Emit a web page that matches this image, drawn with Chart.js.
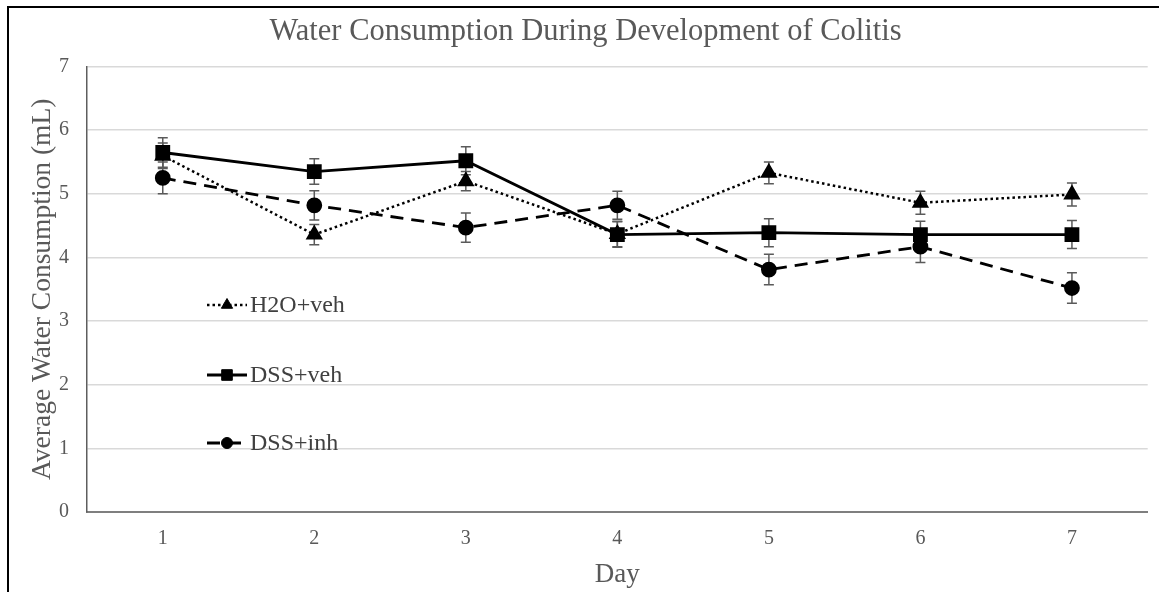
<!DOCTYPE html>
<html>
<head>
<meta charset="utf-8">
<title>Water Consumption During Development of Colitis</title>
<script src="https://cdn.jsdelivr.net/npm/chart.js@4/dist/chart.umd.min.js"></script>
<style>
    html, body { margin: 0; padding: 0; background: #fff; }
    #wrap { position: relative; width: 1159px; height: 592px; }
</style>
</head>
<body>
<div id="wrap"><canvas id="waterChart"></canvas></div>
<script>
// --- Data ---
const days = ['1', '2', '3', '4', '5', '6', '7'];
const yTicks = [0, 1, 2, 3, 4, 5, 6, 7];

const h2oVeh = [5.60, 4.36, 5.20, 4.37, 5.33, 4.86, 4.99];
const h2oVehErr = [0.20, 0.16, 0.15, 0.20, 0.17, 0.18, 0.18];

const dssVeh = [5.65, 5.35, 5.52, 4.36, 4.39, 4.36, 4.36];
const dssVehErr = [0.23, 0.20, 0.22, 0.20, 0.22, 0.21, 0.22];

const dssInh = [5.25, 4.82, 4.47, 4.82, 3.81, 4.17, 3.52];
const dssInhErr = [0.25, 0.23, 0.23, 0.22, 0.24, 0.25, 0.24];

const FONT = '"Liberation Serif", "Times New Roman", serif';
const GREY_TEXT = '#595959';

// --- Error bars, drawn through the scales ---
const errorBars = {
    id: 'errorBars',
    beforeDatasetsDraw(chart) {
        const ctx = chart.ctx;
        const yScale = chart.scales.y;
        ctx.save();
        ctx.strokeStyle = '#5a5a5a';
        ctx.lineWidth = 1.5;
        chart.data.datasets.forEach((ds, i) => {
            const meta = chart.getDatasetMeta(i);
            meta.data.forEach((pt, j) => {
                const v = ds.data[j];
                const e = ds.errors[j];
                const yTop = yScale.getPixelForValue(v + e);
                const yBot = yScale.getPixelForValue(v - e);
                ctx.beginPath();
                ctx.moveTo(pt.x, yTop);
                ctx.lineTo(pt.x, yBot);
                ctx.moveTo(pt.x - 5, yTop);
                ctx.lineTo(pt.x + 5, yTop);
                ctx.moveTo(pt.x - 5, yBot);
                ctx.lineTo(pt.x + 5, yBot);
                ctx.stroke();
            });
        });
        ctx.restore();
    }
};

// --- Legend inside the plot area, stacked vertically ---
const insideLegend = {
    id: 'insideLegend',
    afterDatasetsDraw(chart) {
        const ctx = chart.ctx;
        const area = chart.chartArea;
        const x0 = area.left + 120;
        const rowY = [305, 375, 443];
        ctx.save();
        chart.data.datasets.forEach((ds, i) => {
            const y = rowY[i];
            const len = ds.legendLen;
            ctx.strokeStyle = ds.borderColor;
            ctx.fillStyle = ds.backgroundColor;
            ctx.lineWidth = ds.borderWidth;
            ctx.setLineDash(ds.borderDash || []);
            ctx.beginPath();
            ctx.moveTo(x0, y);
            ctx.lineTo(x0 + len, y);
            ctx.stroke();
            ctx.setLineDash([]);
            ctx.lineWidth = 1;
            Chart.helpers.drawPoint(ctx, {
                pointStyle: ds.pointStyle,
                radius: ds.legendRadius,
                borderWidth: 1
            }, x0 + 20, y);
            ctx.fillStyle = '#404040';
            ctx.font = '24px ' + FONT;
            ctx.textBaseline = 'middle';
            ctx.textAlign = 'left';
            ctx.fillText(ds.label, x0 + 43, y + 1);
        });
        ctx.restore();
    }
};

// --- Outer frame (top and left edges visible in the reference) ---
const frame = {
    id: 'frame',
    afterDraw(chart) {
        const ctx = chart.ctx;
        ctx.save();
        ctx.fillStyle = '#000';
        ctx.fillRect(7, 6, chart.width - 7, 2);
        ctx.fillRect(7, 6, 2, chart.height - 6);
        ctx.restore();
    }
};

const ctxEl = document.getElementById('waterChart');

new Chart(ctxEl, {
    type: 'line',
    data: {
        labels: days,
        datasets: [
            {
                label: 'H2O+veh',
                data: h2oVeh,
                errors: h2oVehErr,
                borderColor: '#000',
                backgroundColor: '#000',
                borderWidth: 2.5,
                borderDash: [2.5, 3],
                pointStyle: 'triangle',
                pointRadius: 7.5,
                legendRadius: 6.5,
                legendLen: 40,
                tension: 0
            },
            {
                label: 'DSS+veh',
                data: dssVeh,
                errors: dssVehErr,
                borderColor: '#000',
                backgroundColor: '#000',
                borderWidth: 2.8,
                pointStyle: 'rect',
                pointRadius: 8.5,
                legendRadius: 7.5,
                legendLen: 40,
                tension: 0
            },
            {
                label: 'DSS+inh',
                data: dssInh,
                errors: dssInhErr,
                borderColor: '#000',
                backgroundColor: '#000',
                borderWidth: 2.8,
                borderDash: [13, 8],
                pointStyle: 'circle',
                pointRadius: 6.5,
                legendRadius: 5.5,
                legendLen: 34,
                tension: 0
            }
        ]
    },
    options: {
        responsive: true,
        maintainAspectRatio: false,
        animation: false,
        layout: { padding: { left: 12, right: 0, top: 0, bottom: 0 } },
        plugins: {
            legend: { display: false },
            tooltip: { enabled: false },
            title: {
                display: true,
                text: 'Water Consumption During Development of Colitis',
                color: GREY_TEXT,
                font: { family: FONT, size: 30.5, weight: 'normal' },
                padding: { top: 14, bottom: 16 }
            }
        },
        scales: {
            x: {
                offset: true,
                grid: { display: true, color: 'rgba(0,0,0,0)', drawTicks: false },
                border: { display: true, color: '#7f7f7f', width: 2 },
                ticks: {
                    color: GREY_TEXT,
                    font: { family: FONT, size: 20 },
                    padding: 15,
                    maxRotation: 0
                },
                title: {
                    display: true,
                    text: 'Day',
                    color: GREY_TEXT,
                    font: { family: FONT, size: 27 },
                    padding: { top: 0, bottom: 1 }
                },
                afterFit(scale) { scale.height = 80; }
            },
            y: {
                min: 0,
                max: 7,
                afterBuildTicks(scale) {
                    scale.ticks = yTicks.map(v => ({ value: v }));
                },
                grid: { color: '#d9d9d9', lineWidth: 1.5, drawTicks: false },
                border: { display: true, color: '#5e5e5e', width: 1.5 },
                ticks: {
                    color: GREY_TEXT,
                    font: { family: FONT, size: 20 },
                    padding: 18
                },
                title: {
                    display: true,
                    text: 'Average Water Consumption (mL)',
                    color: GREY_TEXT,
                    font: { family: FONT, size: 27.5 },
                    padding: { top: 14, bottom: 0 }
                },
                afterFit(scale) { scale.width = 75; }
            }
        }
    },
    plugins: [errorBars, insideLegend, frame]
});
</script>
</body>
</html>
